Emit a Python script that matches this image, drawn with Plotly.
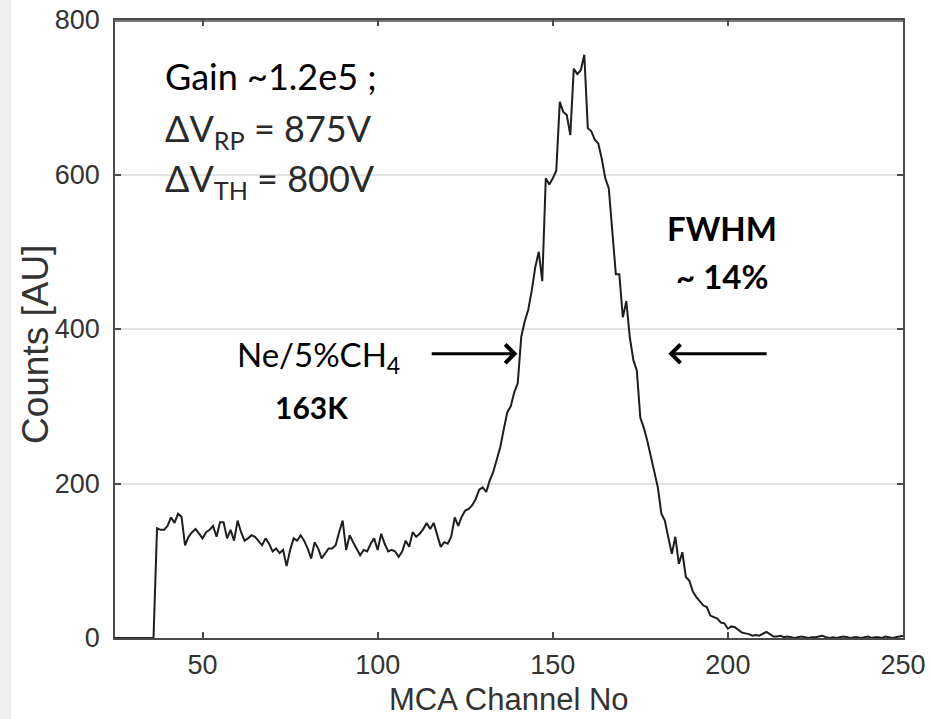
import plotly.graph_objects as go

# ---------------- data ----------------
channels = list(range(25, 251))
counts = (
    [0] * 12 +  # channels 25-36
    [142, 140, 140, 145, 156, 149, 161, 157, 120, 131,      # 37-46
     137, 141, 135, 129, 137, 140, 145, 131, 150, 150,      # 47-56
     129, 140, 126, 152, 137, 126, 129, 133, 131, 126,      # 57-66
     120, 129, 122, 112, 116, 110, 114, 93, 114, 129,       # 67-76
     126, 133, 126, 116, 103, 124, 116, 103, 110, 116,      # 77-86
     116, 120, 137, 152, 114, 133, 124, 116, 107, 114,      # 87-96
     112, 122, 129, 114, 135, 122, 112, 114, 112, 105,      # 97-106
     112, 126, 118, 137, 131, 135, 141, 149, 141, 149,      # 107-116
     133, 118, 124, 122, 131, 156, 145, 157, 165, 167,      # 117-126
     172, 180, 192, 195, 189, 204, 215, 232, 247, 270,      # 127-136
     292, 300, 318, 330, 390, 410, 425, 450, 480, 500,      # 137-146
     462, 595, 587, 595, 605, 694, 681, 677, 651, 737,      # 147-156
     730, 735, 755, 660, 656, 645, 640, 620, 595, 582,      # 157-166
     522, 471, 471, 415, 436, 389, 360, 346, 285, 272,      # 167-176
     255, 236, 215, 195, 161, 152, 130, 109, 131, 96,       # 177-186
     111, 79, 74, 60, 53, 47, 42, 40, 29, 27,               # 187-196
     25, 20, 19, 12, 15, 14, 10, 7, 6, 5,                   # 197-206
     3, 4, 3, 6, 8, 5, 2, 2, 3, 1,                          # 207-216
     2, 1, 0, 1, 2, 1, 0, 1, 1, 2,                          # 217-226
     3, 1, 0, 1, 0, 1, 2, 1, 0, 1,                          # 227-236
     1, 0, 1, 2, 0, 1, 1, 0, 2, 1,                          # 237-246
     0, 1, 2, 3]                                            # 247-250
)

x_ticks = [50, 100, 150, 200, 250]
y_ticks = [0, 200, 400, 600, 800]
x_range = [25, 250]
y_range = [0, 800]

# arrow annotations: (tip_x, tip_y, tail_x, tail_y)
left_arrow = (139.9, 368, 115.0, 368)
right_arrow = (183.0, 368, 211.5, 368)

fig = go.Figure()
fig.add_trace(go.Scatter(
    x=channels, y=counts, mode="lines",
    line=dict(color="#1e1e1e", width=2),
    hoverinfo="skip", showlegend=False,
))
# invisible companion trace so the top axis (with inside ticks) is drawn
fig.add_trace(go.Scatter(
    x=[x_range[0]], y=[y_range[0]], xaxis="x2", mode="lines",
    line=dict(width=0), hoverinfo="skip", showlegend=False,
))

ann_font = "Lato"
annotations = [
    dict(text="Gain ~1.2e5 ;", x=0.061, y=0.910, font=dict(size=36, color="#000000"),
         xanchor="left", yanchor="middle"),
    dict(text="ΔV<sub>RP</sub> = 875V", x=0.061, y=0.821, font=dict(size=36, color="#2a2a2a"),
         xanchor="left", yanchor="middle"),
    dict(text="ΔV<sub>TH</sub> = 800V", x=0.061, y=0.741, font=dict(size=36, color="#2a2a2a"),
         xanchor="left", yanchor="middle"),
    dict(text="<b>FWHM</b>", x=0.770, y=0.664, font=dict(size=33, color="#000000"),
         xanchor="center", yanchor="middle"),
    dict(text="<b>~ 14%</b>", x=0.770, y=0.586, font=dict(size=33, color="#000000"),
         xanchor="center", yanchor="middle"),
    dict(text="Ne/5%CH<sub>4</sub>", x=0.152, y=0.456, font=dict(size=33, color="#000000"),
         xanchor="left", yanchor="middle"),
    dict(text="<b>163K</b>", x=0.249, y=0.373, font=dict(size=30, color="#000000"),
         xanchor="center", yanchor="middle"),
]
for a in annotations:
    a.update(xref="paper", yref="paper", showarrow=False)
    a["font"]["family"] = ann_font

# axis titles as text annotations
annotations.append(dict(
    text="Counts [AU]", textangle=-90, xref="paper", yref="paper",
    x=-0.1015, y=0.474, xanchor="center", yanchor="middle", showarrow=False,
    font=dict(family="Liberation Sans", size=37, color="#333333"),
))
annotations.append(dict(
    text="MCA Channel No", xref="paper", yref="paper",
    x=0.5, y=-0.100, xanchor="center", yanchor="middle", showarrow=False,
    font=dict(family="Liberation Sans", size=31, color="#333333"),
))

for tip_x, tip_y, tail_x, tail_y in (left_arrow, right_arrow):
    annotations.append(dict(
        x=tip_x, y=tip_y, ax=tail_x, ay=tail_y,
        xref="x", yref="y", axref="x", ayref="y",
        showarrow=True, arrowhead=4, arrowsize=1.2, arrowwidth=3,
        arrowcolor="#000000", text="", standoff=0,
    ))

axis_common = dict(
    showline=True, linecolor="#4a4a4a", linewidth=1.5, mirror="ticks",
    ticks="inside", ticklen=6, tickwidth=1.5, tickcolor="#4a4a4a",
    tickfont=dict(family="Liberation Sans", size=27, color="#333333"),
    zeroline=False, automargin=False, ticklabeloverflow="allow",
)

fig.update_layout(
    width=931, height=719,
    margin=dict(l=115, r=28, t=20, b=81, autoexpand=False),
    paper_bgcolor="white", plot_bgcolor="white",
    annotations=annotations,
    xaxis=dict(
        range=x_range, tickvals=x_ticks, showgrid=False,
        ticklabelstandoff=2,
        **axis_common,
    ),
    xaxis2=dict(
        range=x_range, tickvals=x_ticks, overlaying="x", side="top",
        showline=True, linecolor="#4a4a4a", linewidth=1.5,
        ticks="inside", ticklen=6, tickwidth=1.5, tickcolor="#4a4a4a",
        showticklabels=False, showgrid=False, zeroline=False, automargin=False,
    ),
    yaxis=dict(
        range=y_range, tickvals=y_ticks, showgrid=True,
        gridcolor="#e3e3e3", gridwidth=1.5,
        ticklabelstandoff=8,
        **axis_common,
    ),
    shapes=[
        dict(type="rect", xref="paper", yref="paper",
             x0=-115 / 788, x1=-104 / 788, y0=-81 / 618, y1=1 + 20 / 618,
             fillcolor="#efefef", line=dict(width=0), layer="below"),
        # top frame edge, drawn just inside the plot area
        dict(type="line", xref="paper", yref="paper", x0=0, x1=1,
             y0=1 - 1 / 618, y1=1 - 1 / 618,
             line=dict(color="#4a4a4a", width=1.5), layer="above"),
    ],
)

fig.write_html("out.html", config={"displayModeBar": False},
               post_script="document.body.style.margin='0';document.body.style.overflow='hidden';")
